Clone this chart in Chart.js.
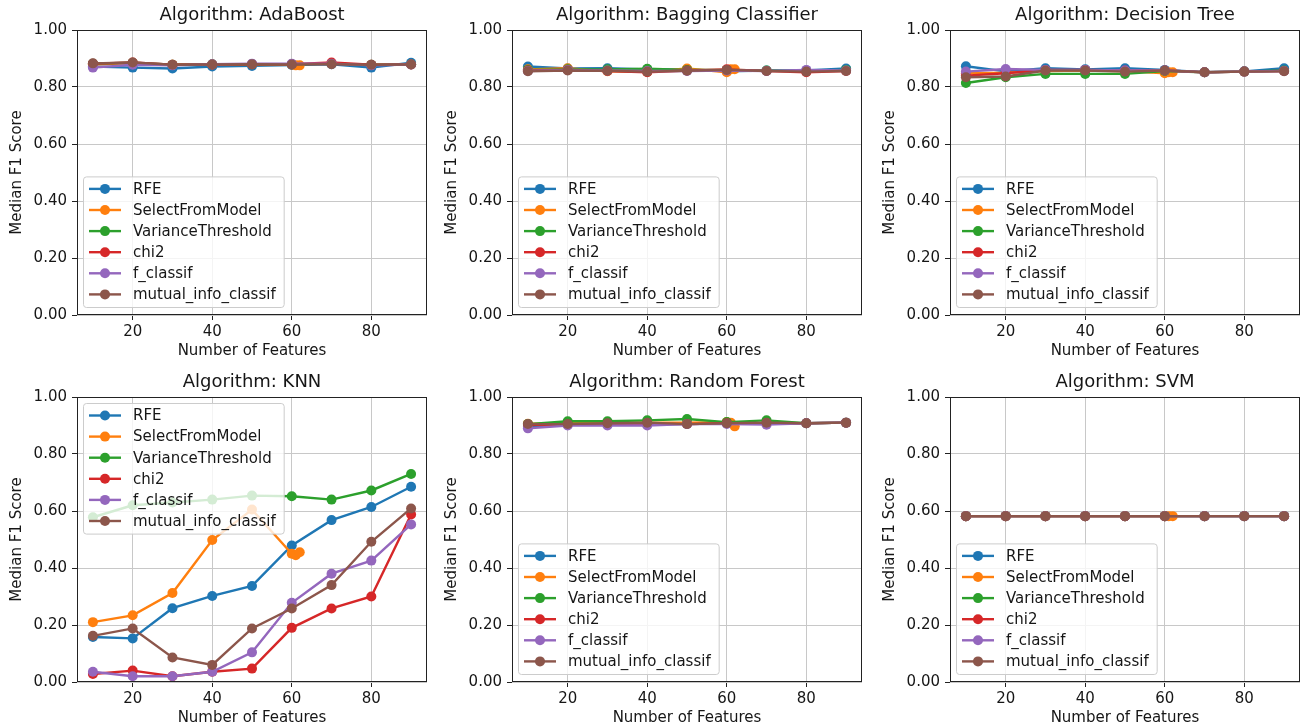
<!DOCTYPE html>
<html>

<head>
  <title>Median F1 Score by Algorithm</title>
  <script src="https://cdn.jsdelivr.net/npm/chart.js"></script>
  <style>
    body { margin: 0; background: #fff; overflow: hidden; }
    canvas { position: absolute; }
  </style>
</head>

<body>
  <canvas id="chart0" width="432" height="360" style="left:0px;top:0px"></canvas>
  <canvas id="chart1" width="432" height="360" style="left:435px;top:0px"></canvas>
  <canvas id="chart2" width="432" height="360" style="left:873px;top:0px"></canvas>
  <canvas id="chart3" width="432" height="360" style="left:0px;top:367px"></canvas>
  <canvas id="chart4" width="432" height="360" style="left:435px;top:367px"></canvas>
  <canvas id="chart5" width="432" height="360" style="left:873px;top:367px"></canvas>
  <script>

    let methods = ['RFE', 'SelectFromModel', 'VarianceThreshold', 'chi2', 'f_classif', 'mutual_info_classif'];
    let algorithms = ['AdaBoost', 'Bagging Classifier', 'Decision Tree', 'KNN', 'Random Forest', 'SVM'];
    let featureCounts = [10, 20, 30, 40, 50, 60, 70, 80, 90];
    let sfmFeatureCounts = [10, 20, 30, 40, 50, 60, 61, 62];  // SelectFromModel stops near 62 features
    let xTicks = [20, 40, 60, 80];
    let yTicks = [0, 0.2, 0.4, 0.6, 0.8, 1.0];

    // one row per method, same order as `methods`
    let adaBoostScores = [
      [0.872, 0.868, 0.865, 0.872, 0.874, 0.877, 0.880, 0.868, 0.885],
      [0.880, 0.882, 0.878, 0.879, 0.880, 0.879, 0.876, 0.876],
      [0.882, 0.885, 0.878, 0.880, 0.880, 0.880, 0.882, 0.878, 0.880],
      [0.882, 0.886, 0.878, 0.879, 0.880, 0.880, 0.886, 0.878, 0.879],
      [0.868, 0.878, 0.876, 0.880, 0.882, 0.882, 0.882, 0.876, 0.879],
      [0.883, 0.886, 0.878, 0.879, 0.880, 0.879, 0.880, 0.878, 0.879]
    ];
    let baggingScores = [
      [0.872, 0.865, 0.866, 0.862, 0.862, 0.855, 0.858, 0.858, 0.865],
      [0.862, 0.866, 0.855, 0.853, 0.865, 0.852, 0.862, 0.862],
      [0.860, 0.862, 0.862, 0.864, 0.860, 0.860, 0.858, 0.856, 0.860],
      [0.858, 0.860, 0.856, 0.852, 0.858, 0.862, 0.856, 0.852, 0.856],
      [0.856, 0.860, 0.858, 0.856, 0.856, 0.858, 0.856, 0.860, 0.858],
      [0.855, 0.858, 0.857, 0.854, 0.857, 0.860, 0.856, 0.854, 0.856]
    ];
    let decisionTreeScores = [
      [0.873, 0.855, 0.866, 0.862, 0.866, 0.860, 0.852, 0.855, 0.866],
      [0.848, 0.850, 0.856, 0.858, 0.856, 0.848, 0.852, 0.852],
      [0.814, 0.834, 0.846, 0.846, 0.846, 0.856, 0.852, 0.854, 0.858],
      [0.840, 0.848, 0.860, 0.860, 0.858, 0.858, 0.852, 0.854, 0.856],
      [0.854, 0.863, 0.860, 0.860, 0.858, 0.858, 0.852, 0.854, 0.856],
      [0.834, 0.837, 0.858, 0.858, 0.854, 0.858, 0.852, 0.854, 0.855]
    ];
    let knnScores = [
      [0.158, 0.153, 0.259, 0.302, 0.337, 0.479, 0.568, 0.614, 0.685],
      [0.210, 0.234, 0.312, 0.498, 0.605, 0.450, 0.445, 0.455],
      [0.578, 0.620, 0.630, 0.640, 0.654, 0.652, 0.640, 0.672, 0.730],
      [0.028, 0.040, 0.020, 0.036, 0.047, 0.190, 0.258, 0.300, 0.588],
      [0.036, 0.020, 0.020, 0.036, 0.104, 0.278, 0.380, 0.426, 0.553],
      [0.162, 0.188, 0.086, 0.060, 0.188, 0.258, 0.340, 0.492, 0.609]
    ];
    let randomForestScores = [
      [0.895, 0.905, 0.905, 0.905, 0.905, 0.908, 0.908, 0.908, 0.910],
      [0.906, 0.908, 0.910, 0.910, 0.910, 0.912, 0.910, 0.897],
      [0.905, 0.915, 0.915, 0.918, 0.923, 0.912, 0.918, 0.908, 0.910],
      [0.902, 0.903, 0.905, 0.906, 0.905, 0.908, 0.908, 0.908, 0.910],
      [0.890, 0.900, 0.900, 0.900, 0.905, 0.905, 0.903, 0.908, 0.910],
      [0.905, 0.905, 0.908, 0.910, 0.905, 0.908, 0.910, 0.908, 0.910]
    ];
    let svmScores = [
      [0.582, 0.582, 0.582, 0.582, 0.582, 0.582, 0.582, 0.582, 0.582],
      [0.582, 0.582, 0.582, 0.582, 0.582, 0.582, 0.582, 0.582],
      [0.582, 0.582, 0.582, 0.582, 0.582, 0.582, 0.582, 0.582, 0.582],
      [0.582, 0.582, 0.582, 0.582, 0.582, 0.582, 0.582, 0.582, 0.582],
      [0.582, 0.582, 0.582, 0.582, 0.582, 0.582, 0.582, 0.582, 0.582],
      [0.582, 0.582, 0.582, 0.582, 0.582, 0.582, 0.582, 0.582, 0.582]
    ];

    let allScores = [adaBoostScores, baggingScores, decisionTreeScores, knnScores, randomForestScores, svmScores];
    let legendCorners = ['lower', 'lower', 'lower', 'upper', 'lower', 'lower'];

    let colors = ['#1f77b4', '#ff7f0e', '#2ca02c', '#d62728', '#9467bd', '#8c564b'];
    let fontFamily = '"DejaVu Sans", sans-serif';
    let textColor = '#161616';

    Chart.defaults.font.family = fontFamily;
    Chart.defaults.font.size = 15;
    Chart.defaults.color = textColor;

    // matplotlib-like title, frame and in-axes legend
    let axesDecor = {
      id: 'axesDecor',
      afterDraw(chart, args, opts) {
        let ctx = chart.ctx;
        let a = chart.chartArea;
        ctx.save();

        ctx.fillStyle = textColor;
        ctx.font = '18px ' + fontFamily;
        ctx.textAlign = 'center';
        ctx.textBaseline = 'middle';
        ctx.fillText(opts.title, (a.left + a.right) / 2, 15);

        ctx.strokeStyle = '#222';
        ctx.lineWidth = 1;
        ctx.strokeRect(a.left + 0.5, a.top + 0.5, a.width - 1, a.height - 1);

        ctx.font = '15px ' + fontFamily;
        let textW = Math.max(...methods.map(m => ctx.measureText(m).width));
        let rowH = 21.1;
        let w = 50 + textW + 8;
        let h = rowH * methods.length + 4;
        let x0 = a.left + 6;
        let y0 = opts.corner === 'upper' ? a.top + 6 : a.bottom - 8 - h;

        ctx.beginPath();
        if (ctx.roundRect) ctx.roundRect(x0 + 0.5, y0 + 0.5, w, h, 3);
        else ctx.rect(x0 + 0.5, y0 + 0.5, w, h);
        ctx.fillStyle = 'rgba(255,255,255,0.8)';
        ctx.fill();
        ctx.strokeStyle = '#cccccc';
        ctx.stroke();

        ctx.textAlign = 'left';
        methods.forEach((m, i) => {
          let cy = y0 + 12.5 + i * rowH;
          ctx.strokeStyle = colors[i];
          ctx.lineWidth = 2.4;
          ctx.beginPath();
          ctx.moveTo(x0 + 6, cy);
          ctx.lineTo(x0 + 38, cy);
          ctx.stroke();
          ctx.fillStyle = colors[i];
          ctx.beginPath();
          ctx.arc(x0 + 22, cy, 5, 0, Math.PI * 2);
          ctx.fill();
          ctx.fillStyle = textColor;
          ctx.fillText(m, x0 + 50, cy + 1);
        });
        ctx.restore();
      }
    };

    algorithms.forEach((name, k) => {
      let scores = allScores[k];
      let datasets = methods.map((m, i) => {
        let xs = i === 1 ? sfmFeatureCounts : featureCounts;
        return {
          label: m,
          data: xs.map((x, j) => ({ x: x, y: scores[i][j] })),
          borderColor: colors[i],
          backgroundColor: colors[i],
          pointBackgroundColor: colors[i],
          borderWidth: 2.4,
          pointRadius: 5,
          pointBorderWidth: 0,
          fill: false,
          tension: 0,
          order: methods.length - i
        };
      });

      let ctx = document.getElementById('chart' + k).getContext('2d');
      new Chart(ctx, {
        type: 'line',
        data: { datasets: datasets },
        plugins: [axesDecor],
        options: {
          responsive: false,
          animation: false,
          events: [],
          layout: { padding: { top: 30, right: 4, left: 0, bottom: 0 } },
          plugins: {
            legend: { display: false },
            tooltip: { enabled: false },
            axesDecor: { title: 'Algorithm: ' + name, corner: legendCorners[k] }
          },
          scales: {
            x: {
              type: 'linear',
              min: 6,
              max: 94,
              afterBuildTicks: scale => { scale.ticks = xTicks.map(v => ({ value: v })); },
              afterFit: scale => { scale.height = 45; },
              ticks: { padding: 3, callback: v => String(v) },
              grid: { color: '#c8c8c8', lineWidth: 1, tickLength: 5, tickColor: '#222' },
              border: { display: false },
              title: { display: true, text: 'Number of Features', padding: { top: 0, bottom: 0 } }
            },
            y: {
              min: 0,
              max: 1,
              afterBuildTicks: scale => { scale.ticks = yTicks.map(v => ({ value: v })); },
              afterFit: scale => { scale.width = 77; },
              ticks: { padding: 5, callback: v => v.toFixed(2) },
              grid: { color: '#c8c8c8', lineWidth: 1, tickLength: 5, tickColor: '#222' },
              border: { display: false },
              title: { display: true, text: 'Median F1 Score', padding: { top: 8, bottom: 0 } }
            }
          }
        }
      });
    });

  </script>
</body>

</html>
